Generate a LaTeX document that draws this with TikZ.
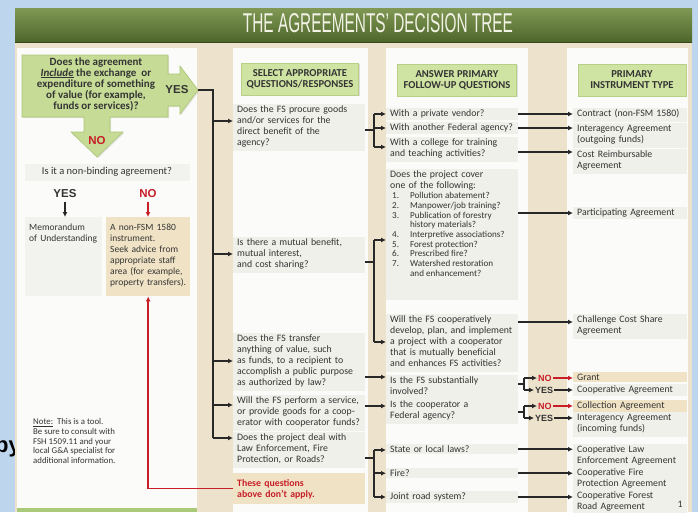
\documentclass[tikz,border=0pt]{standalone}
\usepackage{fontspec}
\setmainfont{Carlito}
\newfontfamily\titlefont{Liberation Sans}
\newfontfamily\capsfont{Liberation Sans}
\usepackage{graphicx}
\usepackage{amsmath}
\usepackage{tikz}
\usetikzlibrary{arrows.meta,shadows}

\definecolor{skyblue}{RGB}{189,214,238}
\definecolor{pagebeige}{RGB}{237,227,205}
\definecolor{cardwhite}{RGB}{251,251,249}
\definecolor{boxgrey}{RGB}{238,240,233}
\definecolor{palegrey}{RGB}{242,243,239}
\definecolor{boxbeige}{RGB}{240,227,197}
\definecolor{headgreen}{RGB}{207,227,162}
\definecolor{headedge}{RGB}{184,207,135}
\definecolor{arrowgreen}{RGB}{198,220,150}
\definecolor{arrowedge}{RGB}{172,198,118}
\definecolor{banlight}{RGB}{128,152,84}
\definecolor{bandark}{RGB}{78,102,42}
\definecolor{titlewhite}{RGB}{242,242,230}
\definecolor{inkgrey}{RGB}{52,52,52}
\definecolor{linedark}{RGB}{40,40,40}
\definecolor{nored}{RGB}{200,30,40}
\definecolor{footgreen}{RGB}{170,202,122}

\newcommand\qsize{\fontsize{9.8}{11}\selectfont}
\newcommand\lsize{\fontsize{9.1}{9.65}\selectfont}
\newcommand\headsize{\bfseries\fontsize{10.6}{11}\selectfont}
\newcommand\asksize{\bfseries\fontsize{11}{11}\selectfont}
\newcommand\leftsize{\fontsize{9.5}{10.9}\selectfont}
\newcommand\asktwosize{\fontsize{10.5}{11}\selectfont}
\newcommand\notesize{\fontsize{8.8}{9.8}\selectfont}
\newcommand\yesnosize{\capsfont\bfseries\fontsize{11.5}{12}\selectfont}
\newcommand\forksize{\capsfont\bfseries\fontsize{9}{10}\selectfont}
\newcommand\bysize{\capsfont\bfseries\fontsize{22}{22}\selectfont}
\newcommand\rows[1]{\begin{tabular}[t]{@{}l@{}}#1\end{tabular}}

\begin{document}
\begin{tikzpicture}[x=1pt,y=-1pt,
    qbox/.style={anchor=north west, fill=boxgrey, align=left, inner xsep=4pt, inner ysep=1.5pt, text height=7pt, text=inkgrey, font=\qsize},
    c2/.style={qbox, text width=124pt},
    c3/.style={qbox, text width=124pt},
    c4/.style={qbox, text width=106pt},
    headbox/.style={fill=headgreen, draw=headedge, align=center, minimum height=32pt, font=\headsize, text=inkgrey,
        drop shadow={opacity=0.25, shadow xshift=1.2pt, shadow yshift=-1.2pt}},
    line/.style={draw=linedark, line width=1.5pt},
    arr/.style={line, -{Latex[length=5pt,width=5pt]}},
    redarr/.style={draw=nored, line width=1.5pt, -{Latex[length=5pt,width=5pt]}}]

\useasboundingbox (0,0) rectangle (698,512);
\clip (0,0) rectangle (698,512);

% page and cards
\fill[skyblue] (0,0) rectangle (698,512);
\node[anchor=base west, inner sep=0, font=\bysize, text=black] (byword) at (-5,452) {by};
\fill[pagebeige] (15,8) rectangle (692,512);
\shade[top color=banlight, bottom color=bandark] (15,8) rectangle (692,42);
\draw[bandark!70!black, line width=1pt] (15,42) -- (692,42);
\node[anchor=base, inner sep=0, text=titlewhite] (title) at (378,32) {\resizebox{270pt}{19pt}{\titlefont THE AGREEMENTS’ DECISION TREE}};
\fill[cardwhite] (17,48) rectangle (197,508);
\fill[cardwhite] (233,48) rectangle (368,512);
\fill[cardwhite] (386,48) rectangle (528,512);
\fill[cardwhite] (567,48) rectangle (688,512);
\fill[footgreen] (17,508) rectangle (197,512);

% first question
\filldraw[fill=arrowgreen, draw=arrowedge, line width=0.6pt, drop shadow={opacity=0.2, shadow xshift=1.2pt, shadow yshift=-1.2pt}]
    (22,55) -- (168,55) -- (168,74) -- (180,74) -- (180,66) -- (198,90) -- (180,114) -- (180,106) -- (168,106)
    -- (168,117) -- (110,117) -- (110,132) -- (123,132) -- (97,157) -- (71,132) -- (84,132) -- (84,117) -- (22,117) -- cycle;
\coordinate (yestip) at (198,90);
\node[font=\asksize, text=inkgrey, align=center] (q0) at (96,84) {Does the agreement\\\underline{\textit{Include}} the exchange~ or\\expenditure of something\\of value (for example,\\funds or services)?};
\node[font=\yesnosize, text=inkgrey] (yes0) at (177,90) {YES};
\node[font=\yesnosize, text=nored] (no0) at (97,141) {NO};

\node[fill=palegrey, minimum width=165pt, minimum height=17pt, font=\asktwosize, text=inkgrey] (nb) at (107,172) {Is it a non-binding agreement?};
\node[font=\yesnosize, text=inkgrey] (yes1) at (65,194) {YES};
\node[font=\yesnosize, text=nored] (no1) at (148,194) {NO};
\node[qbox, fill=palegrey, font=\leftsize, text width=69pt, text height=12pt, text depth=64pt] (mou) at (25,217) {\rows{Memorandum\\of Understanding}};
\node[qbox, fill=boxbeige, font=\leftsize, text width=76pt, text height=12pt, text depth=64pt] (nf) at (106,217) {\rows{A non-FSM 1580\\instrument.\\Seek advice from\\appropriate staff\\area (for example,\\property transfers).}};
\node[anchor=north west, inner sep=0, font=\notesize, text=inkgrey, align=left, text height=6.5pt] (note) at (33,457) {\underline{Note:}\ \ This is a tool.\\Be sure to consult with\\FSH 1509.11 and your\\local G\&A specialist for\\additional information.};

% headers
\node[headbox, minimum width=117pt] (h1) at (300,79) {SELECT APPROPRIATE\\QUESTIONS/RESPONSES};
\node[headbox, minimum width=119pt] (h2) at (457,80) {ANSWER PRIMARY\\FOLLOW-UP QUESTIONS};
\node[headbox, minimum width=108pt] (h3) at (632,80) {PRIMARY\\INSTRUMENT TYPE};

% questions
\node[c2] (q1) at (233,104) {\rows{Does the FS procure goods\\and/or services for the\\direct benefit of the\\agency?}};
\node[c2] (q2) at (233,237) {\rows{Is there a mutual benefit,\\mutual interest,\\and cost sharing?}};
\node[c2] (q3) at (233,333) {\rows{Does the FS transfer\\anything of value, such\\as funds, to a recipient to\\accomplish a public purpose\\as authorized by law?}};
\node[c2] (q4) at (233,395) {\rows{Will the FS perform a service,\\or provide goods for a coop-\\erator with cooperator funds?}};
\node[c2] (q5) at (233,432) {\rows{Does the project deal with\\Law Enforcement, Fire\\Protection, or Roads?}};
\node[c2, fill=boxbeige, text=nored, font=\qsize\bfseries, text height=12pt, text depth=16pt] (q6) at (233,473) {\rows{These questions\\above don't apply.}};

% follow-up questions
\node[c3] (a1) at (386,108) {With a private vendor?};
\node[c3] (a2) at (386,122) {With another Federal agency?};
\node[c3] (a3) at (386,137) {\rows{With a college for training\\and teaching activities?}};
\node[c3, text depth=121pt] (a4) at (386,169) {\rows{Does the project cover\\one of the following:}};
\node[anchor=north west, inner sep=0, font=\lsize, text=inkgrey] (a4l) at (392,192) {\begin{tabular}{@{}l@{\hspace{11pt}}l@{}}
1. & Pollution abatement?\\ 2. & Manpower/job training?\\ 3. & Publication of forestry\\ & history materials?\\
4. & Interpretive associations?\\ 5. & Forest protection?\\ 6. & Prescribed fire?\\ 7. & Watershed restoration\\ & and enhancement?\end{tabular}};
\node[c3] (a5) at (386,314) {\rows{Will the FS cooperatively\\develop, plan, and implement\\a project with a cooperator\\that is mutually beneficial\\and enhances FS activities?}};
\node[c3] (a6) at (386,375) {\rows{Is the FS substantially\\involved?}};
\node[c3] (a7) at (386,399) {\rows{Is the cooperator a\\Federal agency?}};
\node[c3] (a8) at (386,444) {State or local laws?};
\node[c3] (a9) at (386,468) {Fire?};
\node[c3] (a10) at (386,491) {Joint road system?};

% instrument types
\node[c4] (r1) at (573,108) {\rows{Contract (non-FSM 1580)}};
\node[c4] (r2) at (573,123) {\rows{Interagency Agreement\\(outgoing funds)}};
\node[c4] (r3) at (573,149) {\rows{Cost Reimbursable\\Agreement}};
\node[c4] (r4) at (573,207) {Participating Agreement};
\node[c4] (r5) at (573,314) {\rows{Challenge Cost Share\\Agreement}};
\node[c4, fill=boxbeige] (r6) at (573,372) {Grant};
\node[c4] (r7) at (573,384) {Cooperative Agreement};
\node[c4, fill=boxbeige] (r8) at (573,400) {Collection Agreement};
\node[c4] (r9) at (573,412) {\rows{Interagency Agreement\\(incoming funds)}};
\node[c4] (r10) at (573,444) {\rows{Cooperative Law\\Enforcement Agreement}};
\node[c4] (r11) at (573,467) {\rows{Cooperative Fire\\Protection Agreement}};
\node[c4] (r12) at (573,490) {\rows{Cooperative Forest\\Road Agreement}};
\node[font=\qsize, text=inkgrey] (pg) at (680,504) {1};

\node[anchor=west, inner sep=1pt, font=\forksize, text=nored] (no2) at (537,378) {NO};
\node[anchor=west, inner sep=1pt, font=\forksize, text=inkgrey] (yes2) at (534,390) {YES};
\node[anchor=west, inner sep=1pt, font=\forksize, text=nored] (no3) at (537,406) {NO};
\node[anchor=west, inner sep=1pt, font=\forksize, text=inkgrey] (yes3) at (534,418) {YES};

% left column connectors
\path (yes1.south) edge[arr] (yes1.south |- mou.north);
\path (no1.south) edge[redarr] (no1.south |- nf.north);
\draw[redarr] (q6.west) -| (nf.south);

% trunk
\coordinate (k1) at (213,121);
\coordinate (k2) at (213,254);
\coordinate (k3) at (213,361);
\coordinate (k4) at (213,405);
\coordinate (k5) at (213,438);
\draw[line] (yestip) -| (k5);
\path (k1) edge[arr] (k1 -| q1.west);
\path (k2) edge[arr] (k2 -| q2.west);
\path (k3) edge[arr] (k3 -| q3.west);
\path (k4) edge[arr] (k4 -| q4.west);
\path (k5) edge[arr] (k5 -| q5.west);

% questions to follow-ups
\coordinate (s1) at (374,130);
\coordinate (u1) at (374,114);
\coordinate (u2) at (374,128);
\coordinate (u3) at (374,147);
\path (q1.east |- s1) edge[line] (s1) (u1) edge[line] (u3);
\path (u1) edge[arr] (u1 -| a1.west);
\path (u2) edge[arr] (u2 -| a2.west);
\path (u3) edge[arr] (u3 -| a3.west);

\coordinate (s2) at (374,262);
\coordinate (u4) at (374,240);
\coordinate (u5) at (374,342);
\path (q2.east |- s2) edge[line] (s2) (u4) edge[line] (u5);
\path (u4) edge[arr] (u4 -| a4.west);
\path (u5) edge[arr] (u5 -| a5.west);

\coordinate (s3) at (374,377);
\coordinate (s4) at (374,406);
\path (q3.east |- s3) edge[arr] (s3 -| a6.west);
\path (q4.east |- s4) edge[arr] (s4 -| a7.west);

\coordinate (s5) at (374,458);
\coordinate (u8) at (374,450);
\coordinate (u10) at (374,497);
\path (q5.east |- s5) edge[line] (s5) (u8) edge[line] (u10);
\path (u8) edge[arr] (u8 -| a8.west);
\path (u8 |- a9.west) edge[arr] (a9.west);
\path (u10) edge[arr] (u10 -| a10.west);

% follow-ups to instruments
\path (a1.east) edge[arr] (a1.east -| r1.west);
\path (a2.east) edge[arr] (a2.east -| r2.west);
\path (a3.east |- 0,152) edge[arr] (r3.west |- 0,152);
\path (a4.east |- r4.west) edge[arr] (r4.west);
\path (a5.east |- 0,322) edge[arr] (r5.west |- 0,322);

\coordinate (f1) at (524,384);
\coordinate (f2) at (524,412);
\path (a6.east |- f1) edge[line] (f1) (f1 |- no2.west) edge[line] (f1 |- yes2.west);
\path (a7.east |- f2) edge[line] (f2) (f2 |- no3.west) edge[line] (f2 |- yes3.west);
\path (f1 |- no2.west) edge[arr] (no2.west);
\path (f1 |- yes2.west) edge[arr] (yes2.west);
\path (f2 |- no3.west) edge[arr] (no3.west);
\path (f2 |- yes3.west) edge[arr] (yes3.west);
\path (no2.east) edge[redarr] (no2.east -| r6.west);
\path (yes2.east) edge[arr] (yes2.east -| r7.west);
\path (no3.east) edge[redarr] (no3.east -| r8.west);
\path (yes3.east) edge[arr] (yes3.east -| r9.west);

\path (a8.east) edge[arr] (a8.east -| r10.west);
\path (a9.east) edge[arr] (a9.east -| r11.west);
\path (a10.east) edge[arr] (a10.east -| r12.west);

\end{tikzpicture}
\end{document}
